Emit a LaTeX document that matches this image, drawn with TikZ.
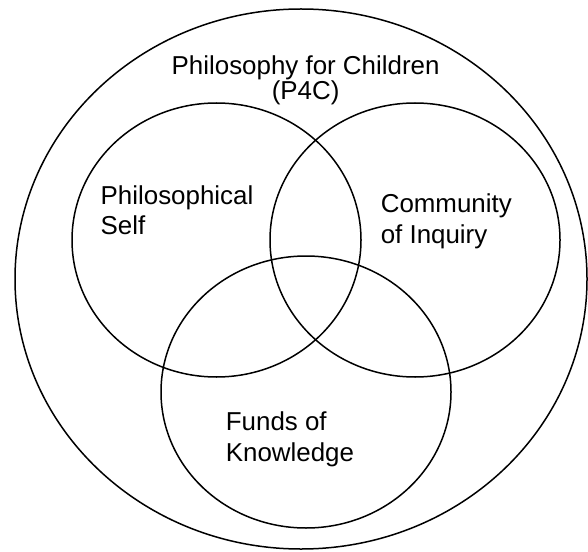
\documentclass[tikz,border=0pt]{standalone}
\usepackage{fontspec}
\setmainfont{Liberation Sans}

\begin{document}
\begin{tikzpicture}[
    x=1bp, y=-1bp,
    ring/.style={draw, line width=1.5bp},
    caption/.style={align=left, inner sep=0pt, font=\fontsize{26}{31}\selectfont}
  ]
    \useasboundingbox (0,0) rectangle (588,552);

    % Outer ring
    \draw[ring] (301,279) ellipse [x radius=286, y radius=270];

    % Three overlapping rings
    \draw[ring] (216.5,240) ellipse [x radius=144.5, y radius=137];
    \draw[ring] (415,240) ellipse [x radius=145, y radius=137];
    \draw[ring] (306,392) ellipse [x radius=145, y radius=136];

    % Labels (anchored on the baseline of the last line)
    \node[caption, align=center, anchor=base] (p4c) at (305.6,100) {Philosophy for Children\\[-5bp](P4C)};
    \node[caption, anchor=base west] (self) at (100.5,235) {Philosophical\\Self};
    \node[caption, anchor=base west] (inquiry) at (380.6,243) {Community\\of Inquiry};
    \node[caption, anchor=base west] (funds) at (225.7,461) {Funds of\\Knowledge};

  \end{tikzpicture}
\end{document}
